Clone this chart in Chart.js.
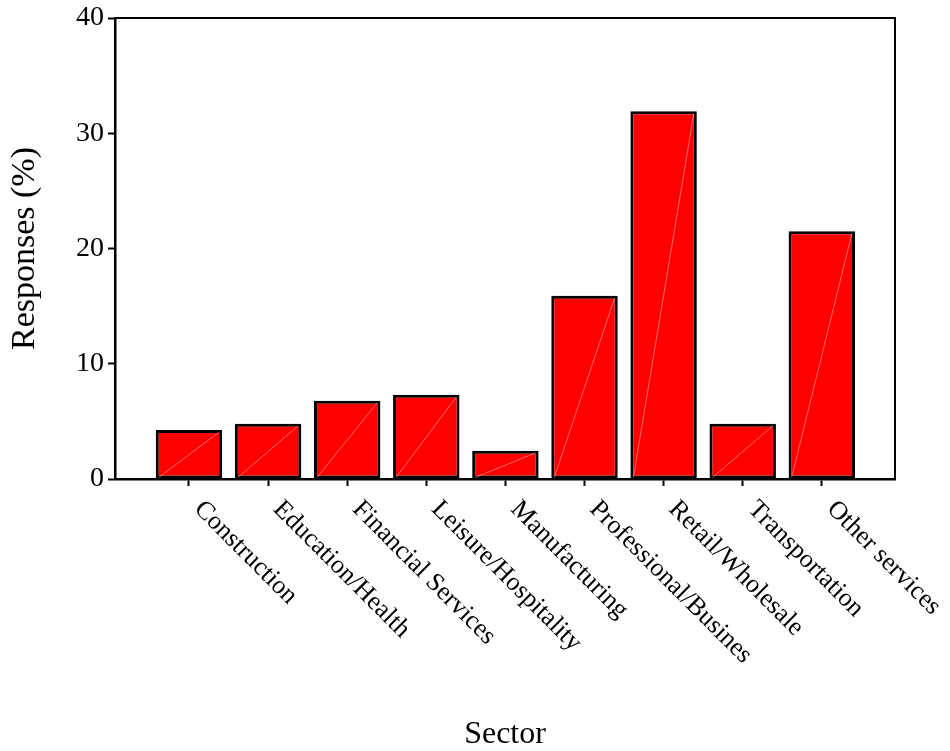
<!DOCTYPE html>
<html>
<head>
<meta charset="utf-8">
<script src="https://cdn.jsdelivr.net/npm/chart.js@4/dist/chart.umd.min.js"></script>
<style>
  html, body { margin: 0; padding: 0; background: #ffffff; }
  #wrap { width: 950px; height: 751px; }
</style>
</head>
<body>
<div id="wrap"><canvas id="chart" width="950" height="751"></canvas></div>
<script>
// Share of responses by sector (%)
const sectors = [
  'Construction', 'Education/Health', 'Financial Services', 'Leisure/Hospitality',
  'Manufacturing', 'Professional/Busines', 'Retail/Wholesale', 'Transportation', 'Other services'
];
const responses = [4.25, 4.8, 6.8, 7.3, 2.45, 15.9, 31.9, 4.8, 21.5];
const yTicks = [0, 10, 20, 30, 40];

const serif = '"Liberation Serif", "Times New Roman", Times, serif';

// Bars are placed on a linear x scale at positions 0..n-1
const points = responses.map((v, i) => ({ x: i, y: v }));

// Frame, diagonal sheen on bars, and slanted sector labels
const decorations = {
  id: 'decorations',
  afterDatasetsDraw(chart) {
    const ctx = chart.ctx;
    const meta = chart.getDatasetMeta(0);
    ctx.save();
    ctx.strokeStyle = 'rgba(255,175,175,0.75)';
    ctx.lineWidth = 0.8;
    meta.data.forEach(bar => {
      const half = bar.width / 2 - 3;
      ctx.beginPath();
      ctx.moveTo(bar.x - half, bar.base - 1);
      ctx.lineTo(bar.x + half, bar.y + 2);
      ctx.stroke();
    });
    ctx.restore();
  },
  afterDraw(chart) {
    const ctx = chart.ctx;
    const area = chart.chartArea;
    const xs = chart.scales.x;
    ctx.save();
    ctx.strokeStyle = '#000';
    ctx.lineWidth = 2;
    ctx.beginPath();
    ctx.moveTo(area.left, area.top);
    ctx.lineTo(area.right, area.top);
    ctx.lineTo(area.right, area.bottom);
    ctx.stroke();

    ctx.fillStyle = '#000';
    ctx.font = '26px ' + serif;
    ctx.textAlign = 'left';
    ctx.textBaseline = 'alphabetic';
    sectors.forEach((name, i) => {
      const px = xs.getPixelForValue(i);
      ctx.save();
      ctx.translate(px, xs.top + 7);
      ctx.rotate(Math.PI / 4);
      ctx.fillText(name, 20, 14);
      ctx.restore();
    });
    ctx.restore();
  }
};

new Chart(document.getElementById('chart'), {
  type: 'bar',
  data: {
    datasets: [{
      data: points,
      backgroundColor: '#ff0000',
      borderColor: '#000000',
      borderWidth: 3,
      borderSkipped: false,
      barPercentage: 0.84,
      categoryPercentage: 1
    }]
  },
  options: {
    responsive: false,
    animation: false,
    layout: { padding: { top: 18, right: 55, bottom: 0, left: 0 } },
    plugins: { legend: { display: false }, tooltip: { enabled: false } },
    scales: {
      x: {
        type: 'linear',
        offset: false,
        min: -0.935,
        max: 8.925,
        afterBuildTicks(scale) {
          scale.ticks = sectors.map((s, i) => ({ value: i }));
        },
        afterFit(scale) {
          scale.height = 751 - 479;
          scale.paddingLeft = 0;
          scale.paddingRight = 0;
        },
        grid: {
          offset: false,
          drawOnChartArea: false,
          drawTicks: true,
          tickLength: 7,
          tickColor: '#000',
          tickWidth: 2
        },
        border: { display: true, color: '#000', width: 2.5 },
        ticks: { display: false },
        title: {
          display: true,
          text: 'Sector',
          color: '#000',
          font: { family: serif, size: 32, lineHeight: 1 },
          padding: { top: 0, bottom: 0 }
        }
      },
      y: {
        min: 0,
        max: 40,
        afterBuildTicks(scale) {
          scale.ticks = yTicks.map(v => ({ value: v }));
        },
        afterFit(scale) {
          scale.width = 115;
          scale.paddingTop = 0;
          scale.paddingBottom = 0;
        },
        grid: {
          drawOnChartArea: false,
          drawTicks: true,
          tickLength: 7,
          tickColor: '#000',
          tickWidth: 2
        },
        border: { display: true, color: '#000', width: 2.5 },
        ticks: {
          color: '#000',
          padding: 4,
          font: { family: serif, size: 28 }
        },
        title: {
          display: true,
          text: 'Responses (%)',
          color: '#000',
          font: { family: serif, size: 34, lineHeight: 1 },
          padding: { top: 8, bottom: 0 }
        }
      }
    }
  },
  plugins: [decorations]
});
</script>
</body>
</html>
